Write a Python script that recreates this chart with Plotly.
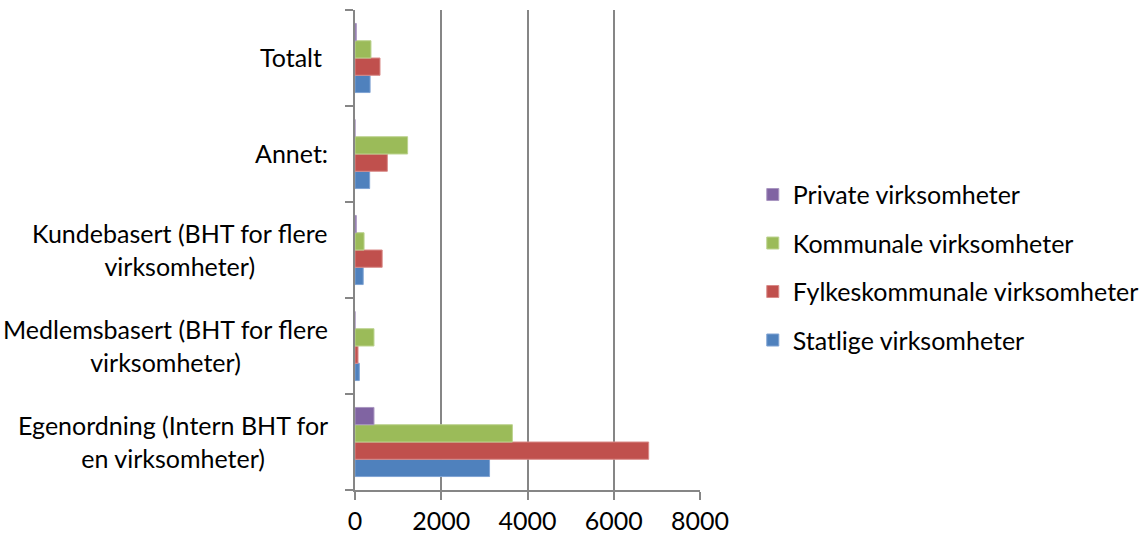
import plotly.graph_objects as go

categories = [
    "Egenordning (Intern BHT for<br>en virksomheter)",
    "Medlemsbasert (BHT for flere<br>virksomheter)",
    "Kundebasert (BHT for flere<br>virksomheter)",
    "Annet:",
    "Totalt ",
]
cat_keys = ["Egenordning", "Medlemsbasert", "Kundebasert", "Annet", "Totalt"]

statlige = [3120, 100, 190, 340, 350]
fylkeskommunale = [6810, 70, 630, 750, 580]
kommunale = [3650, 440, 210, 1220, 370]
private = [440, 0, 30, 0, 30]

series = [
    ("Statlige virksomheter", statlige, "#4F81BD", "#7FA3D3"),
    ("Fylkeskommunale virksomheter", fylkeskommunale, "#C0504D", "#D98A88"),
    ("Kommunale virksomheter", kommunale, "#9BBB59", "#BCD38F"),
    ("Private virksomheter", private, "#8064A2", "#A996C0"),
]

FONT = "Lato"
FS = 25
fig = go.Figure()
for i, (name, vals, col, edge) in enumerate(series):
    fig.add_trace(go.Bar(
        y=cat_keys, x=vals, name=name, orientation="h",
        marker=dict(color=col, line=dict(color=edge, width=1)),
        legendgroup=str(i), legendrank=100 - i,
    ))

for key, label in zip(cat_keys, categories):
    fig.add_annotation(
        x=0, xref="paper", y=key, yref="y", text=label,
        showarrow=False, xanchor="right", yanchor="middle", align="center",
        xshift=-25, yshift=1, font=dict(family=FONT, size=FS, color="#000000"),
    )

fig.update_layout(
    width=1141, height=537,
    margin=dict(l=355, r=441, t=10, b=47, autoexpand=False),
    paper_bgcolor="white", plot_bgcolor="white",
    barmode="group", bargap=0.28, bargroupgap=0,
    font=dict(family=FONT, size=FS, color="#000000"),
    legend=dict(
        x=1.153, y=0.464, xanchor="left", yanchor="middle",
        traceorder="grouped", tracegroupgap=13,
        font=dict(family=FONT, size=FS, color="#000000"),
        bgcolor="rgba(0,0,0,0)",
    ),
    showlegend=True,
)
fig.update_xaxes(
    range=[0, 8000], tickvals=[0, 2000, 4000, 6000, 8000],
    showgrid=True, gridcolor="#868686", gridwidth=2,
    showline=True, linecolor="#868686", linewidth=2,
    ticks="outside", ticklen=8, tickwidth=2, tickcolor="#868686",
    zeroline=False, tickfont=dict(family=FONT, size=FS, color="#000000"),
)
fig.update_yaxes(
    type="category", categoryorder="array", categoryarray=cat_keys,
    showticklabels=False, tickson="boundaries",
    ticks="outside", ticklen=8, tickwidth=2, tickcolor="#868686",
    showline=True, linecolor="#868686", linewidth=2,
    showgrid=False, zeroline=False,
)

fig.write_html("out.html")
